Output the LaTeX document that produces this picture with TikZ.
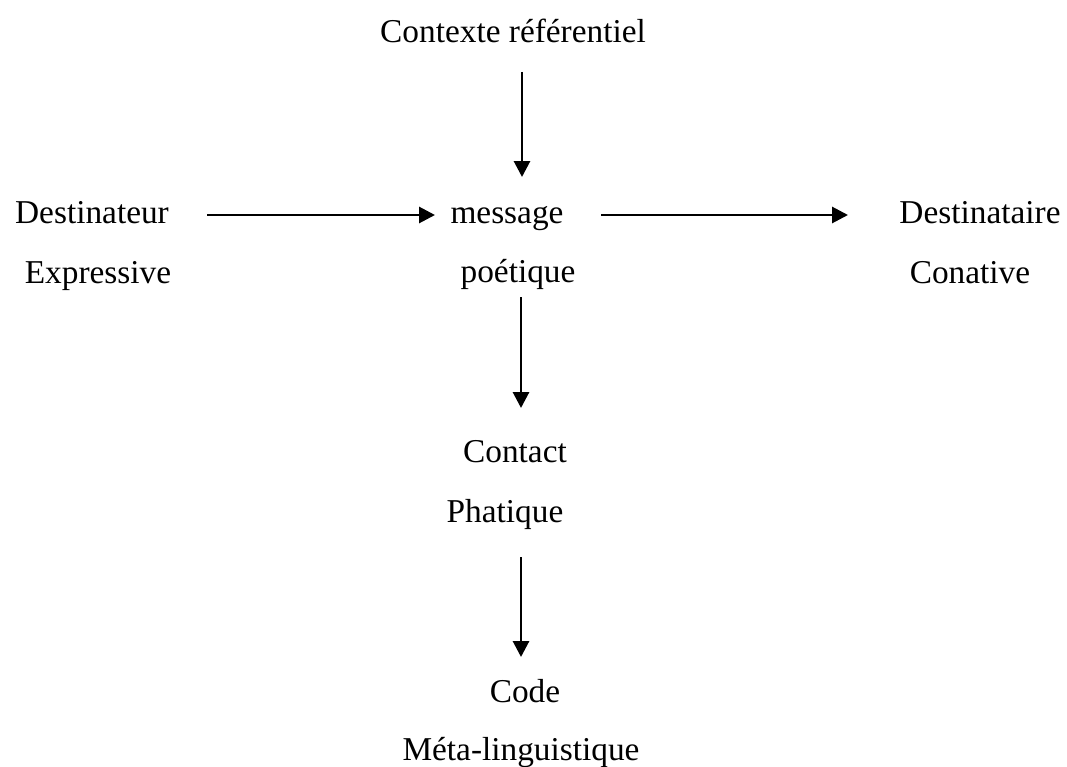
\documentclass[tikz,border=0pt]{standalone}
\usepackage{fontspec}
\setmainfont{Liberation Serif}
\usetikzlibrary{arrows.meta}

\begin{document}
\begin{tikzpicture}[x=0.75pt,y=-0.75pt,
    mot/.style={inner sep=0pt, anchor=base, font=\fontsize{25}{30}\selectfont},
    fleche/.style={line width=2.2pt, -{Triangle[length=12pt,width=12pt]}}]
\useasboundingbox (0,0) rectangle (1067,767);

% les facteurs et leurs fonctions
\foreach \nom/\x/\y/\texte in {
    contexte/513/43/{Contexte référentiel},
    dest/92/223/{Destinateur},
    express/98/283/{Expressive},
    message/507/223/{message},
    poetique/518/282/{poétique},
    destinataire/980/223/{Destinataire},
    conative/970/283/{Conative},
    contact/515/462/{Contact},
    phatique/505/522/{Phatique},
    code/525/702/{Code},
    meta/521/760/{Méta-linguistique}} {
    \node[mot] (\nom) at (\x,\y) {\texte};
}

% fleches (decalages depuis la ligne de base)
\foreach \a/\sa/\b/\sb in {
    dest/{115,-8}/message/{-72,-8},
    message/{94,-8}/destinataire/{-132,-8},
    contexte/{9,29}/message/{15,-46},
    poetique/{3,15}/contact/{6,-54},
    phatique/{16,35}/code/{-4,-45}} {
    \draw[fleche] ([shift={(\sa)}]\a.base) -- ([shift={(\sb)}]\b.base);
}
\end{tikzpicture}
\end{document}
